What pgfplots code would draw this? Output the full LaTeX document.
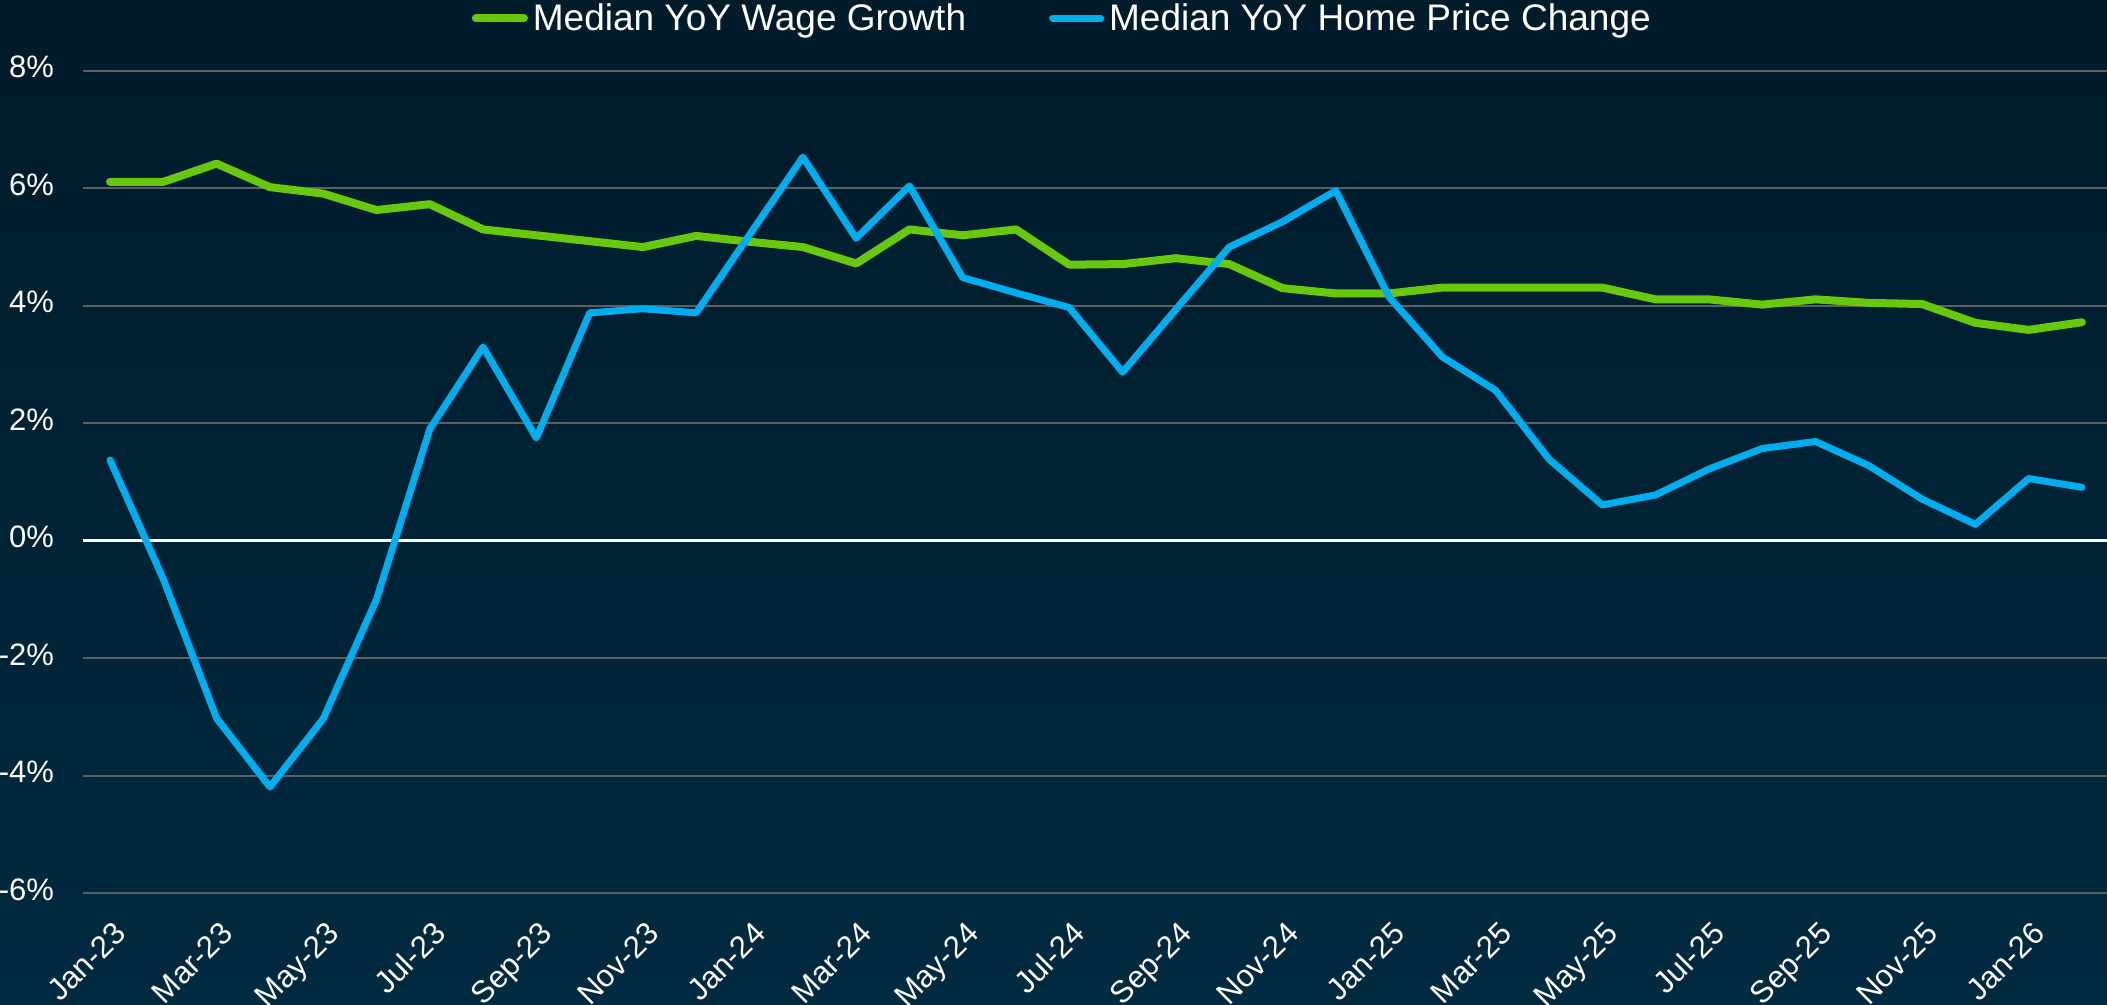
\documentclass[border=0pt]{standalone}
\usepackage{pgfplots}
\pgfplotsset{compat=1.18}
\usepackage{fontspec}
\setmainfont{Liberation Sans}
\definecolor{bgtop}{RGB}{0,27,42}
\definecolor{bgbot}{RGB}{0,42,64}
\definecolor{wagegreen}{RGB}{104,200,14}
\definecolor{homeblue}{RGB}{0,174,239}
\definecolor{gridgray}{RGB}{95,95,95}

\pgfplotstableread{
x wage home
0 6.11 1.375
1 6.11 -0.65
2 6.42 -3.02
3 6.02 -4.19
4 5.91 -3.03
5 5.63 -1.00
6 5.73 1.90
7 5.30 3.30
8 5.20 1.75
9 5.10 3.88
10 5.00 3.95
11 5.19 3.88
12 5.09 5.21
13 5.00 6.53
14 4.72 5.15
15 5.30 6.04
16 5.20 4.48
17 5.30 4.22
18 4.70 3.97
19 4.71 2.87
20 4.81 3.94
21 4.71 5.00
22 4.30 5.43
23 4.21 5.96
24 4.21 4.15
25 4.31 3.13
26 4.31 2.56
27 4.31 1.39
28 4.31 0.61
29 4.11 0.78
30 4.11 1.22
31 4.02 1.57
32 4.11 1.69
33 4.05 1.28
34 4.03 0.71
35 3.71 0.28
36 3.59 1.06
37 3.72 0.91
}\datatable

\begin{document}
\begin{tikzpicture}
\path[use as bounding box] (0,0) rectangle (1053.5bp,502.5bp);
\shade[top color=bgtop, bottom color=bgbot] (0,0) rectangle (1053.5bp,502.5bp);
\begin{axis}[
  at={(41.675bp,55.85bp)}, anchor=south west,
  scale only axis, width=1011.8bp, height=411.25bp,
  xmin=-0.5, xmax=37.47, ymin=-6, ymax=8,
  axis line style={draw=none},
  major tick length=0pt,
  xtick={0,2,...,36},
  xticklabels={Jan-23,Mar-23,May-23,Jul-23,Sep-23,Nov-23,Jan-24,Mar-24,May-24,Jul-24,Sep-24,Nov-24,Jan-25,Mar-25,May-25,Jul-25,Sep-25,Nov-25,Jan-26},
  xticklabel style={xshift=6.5bp, yshift=-18.5bp, rotate=45, anchor=east, inner sep=0pt, text height=0.716em, text depth=0pt, font=\fontsize{15.5bp}{18bp}\selectfont, text=white},
  ytick={-6,-4,...,8},
  yticklabels={-6\%,-4\%,-2\%,0\%,2\%,4\%,6\%,8\%},
  yticklabel style={xshift=-14.5bp, anchor=east, inner sep=0pt, text height=0.716em, text depth=0pt, font=\fontsize{15.5bp}{18bp}\selectfont, text=white},
  ymajorgrids,
  major grid style={gridgray, line width=1bp},
  extra y ticks={0}, extra y tick labels={},
  extra y tick style={major grid style={white, line width=1.5bp}},
  legend columns=2,
  legend style={at={(axis description cs:0.192,1.0638)}, anchor=west, draw=none, fill=none, inner sep=0pt, outer sep=0pt,
    font=\fontsize{18.5bp}{22bp}\selectfont, text=white,
    nodes={inner sep=0pt},
    /tikz/every odd column/.append style={column sep=2.5bp},
    /tikz/every even column/.append style={column sep=41.5bp}},
  legend image code/.code={\draw[#1, line cap=round] (2bp,0bp) -- (26bp,0bp);},
]
\addplot[wagegreen, line width=4bp, line cap=round, line join=round] table[x=x, y=wage] {\datatable};
\addlegendentry{Median YoY Wage Growth}
\addplot[homeblue, line width=3.5bp, line cap=round, line join=round] table[x=x, y=home] {\datatable};
\addlegendentry{Median YoY Home Price Change}
\end{axis}
\end{tikzpicture}
\end{document}
